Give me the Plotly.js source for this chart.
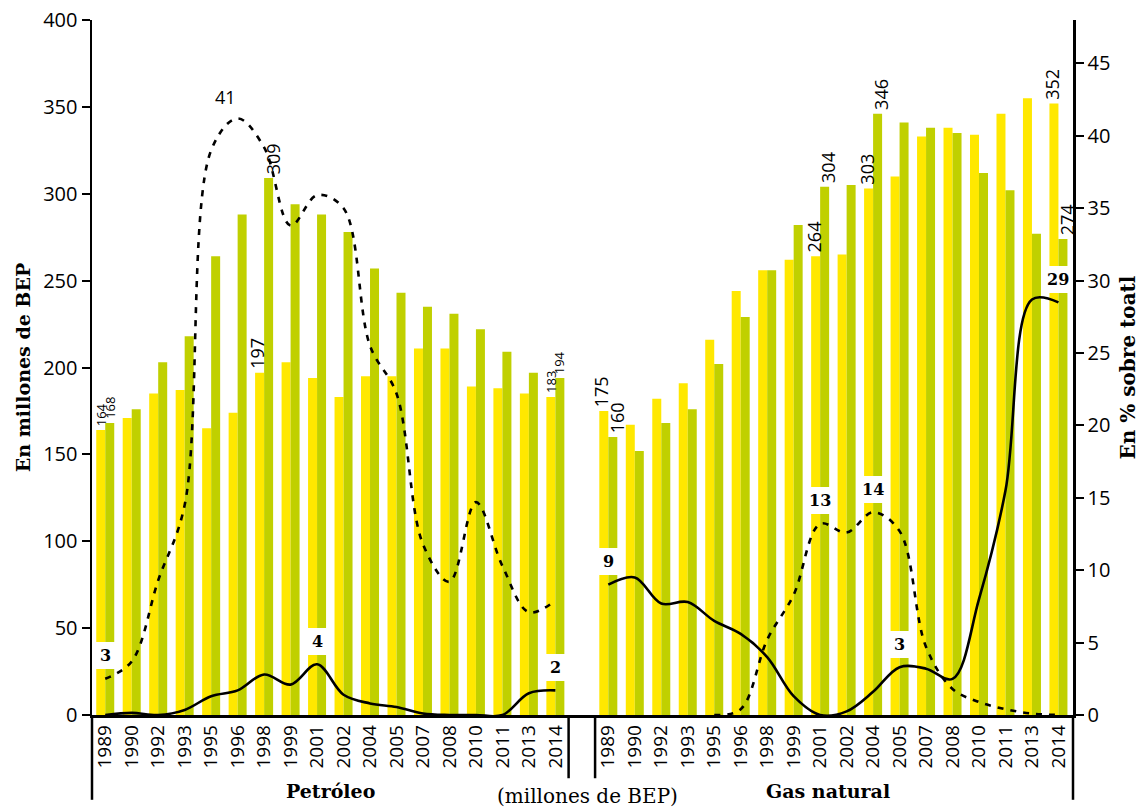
<!DOCTYPE html>
<html>
<head>
<meta charset="utf-8">
<script src="https://cdn.plot.ly/plotly-3.0.1.min.js"></script>
<style>html,body{margin:0;padding:0;background:#fff;}#chart{width:1147px;height:807px;}</style>
</head>
<body>
<div id="chart"></div>
<script>
// ---- data ----
const years = ['1989','1990','1992','1993','1995','1996','1998','1999','2001','2002','2004','2005','2007','2008','2010','2011','2013','2014'];

// Petróleo (millones de BEP)
const petroYellow = [164, 171, 185, 187, 165, 174, 197, 203, 194, 183, 195, 195, 211, 211, 189, 188, 185, 183];
const petroGreen  = [168, 176, 203, 218, 264, 288, 309, 294, 288, 278, 257, 243, 235, 231, 222, 209, 197, 194];
// Gas natural (millones de BEP)
const gasYellow = [175, 167, 182, 191, 216, 244, 256, 262, 264, 265, 303, 310, 333, 338, 334, 346, 355, 352];
const gasGreen  = [160, 152, 168, 176, 202, 229, 256, 282, 304, 305, 346, 341, 338, 335, 312, 302, 277, 274];

// % sobre total (right axis)
const petroDashed = [2.5, 3.7, 9.3, 14.5, 39.0, 41.2, 39.2, 33.8, 35.9, 35.0, 25.5, 22.2, 11.8, 9.2, 14.7, 10.3, 7.1, 7.9];
const petroSolid  = [0, 0.15, 0, 0.35, 1.3, 1.7, 2.8, 2.1, 3.5, 1.4, 0.8, 0.55, 0.1, 0, 0, 0, 1.5, 1.7];
const gasDashed   = [null, null, null, null, 0, 0.4, 5.2, 8.3, 13.2, 12.6, 14.0, 12.7, 4.7, 1.8, 0.9, 0.4, 0.1, 0];
const gasSolid    = [9.0, 9.5, 7.7, 7.8, 6.5, 5.6, 4.0, 1.3, 0, 0.25, 1.6, 3.3, 3.2, 2.5, 8.0, 15.5, 28.7, 28.5];

// which points carry labels
const petroBarLabelIdx = [0, 6, 17];
const gasBarLabelIdx = [0, 8, 10, 17];
const smallBarLabelIdxPetro = [0, 17];
const boxedLabels = [
  {series: 'petroDashed', idx: 0},
  {series: 'petroSolid', idx: 8},
  {series: 'petroSolid', idx: 17},
  {series: 'gasSolid', idx: 0},
  {series: 'gasDashed', idx: 8},
  {series: 'gasDashed', idx: 10},
  {series: 'gasSolid', idx: 11},
  {series: 'gasSolid', idx: 17}
];
const peakLabel = {series: 'petroDashed', idx: 5};

// ---- positions on the category axis ----
const n = years.length;
const petroX = years.map((_, i) => i);
const gasX = years.map((_, i) => i + n + 1);

const YELLOW = '#FFE800';
const GREEN = '#C0D000';
const TICKFONT = 'Open Sans, Noto Sans, sans-serif';
const SERIF = 'DejaVu Serif, serif';

const seriesMap = {
  petroDashed: {x: petroX, y: petroDashed},
  petroSolid: {x: petroX, y: petroSolid},
  gasDashed: {x: gasX, y: gasDashed},
  gasSolid: {x: gasX, y: gasSolid}
};

const dashLine = {color: '#000', width: 2.6, dash: '6px,7px', shape: 'spline', smoothing: 1};
const solidLine = {color: '#000', width: 2.6, shape: 'spline', smoothing: 1};

const traces = [
  {type: 'bar', x: petroX.concat(gasX), y: petroYellow.concat(gasYellow), marker: {color: YELLOW}, hoverinfo: 'y'},
  {type: 'bar', x: petroX.concat(gasX), y: petroGreen.concat(gasGreen), marker: {color: GREEN}, hoverinfo: 'y'},
  {type: 'scatter', mode: 'lines', x: petroX, y: petroDashed, yaxis: 'y2', line: dashLine},
  {type: 'scatter', mode: 'lines', x: gasX, y: gasDashed, yaxis: 'y2', line: dashLine, connectgaps: false},
  {type: 'scatter', mode: 'lines', x: petroX, y: petroSolid, yaxis: 'y2', line: solidLine},
  {type: 'scatter', mode: 'lines', x: gasX, y: gasSolid, yaxis: 'y2', line: solidLine}
];

const annotations = [];
const barOffset = 0.17;
function addBarLabels(xs, ya, yb, idxs, smallIdx) {
  idxs.forEach(i => {
    const small = smallIdx.indexOf(i) >= 0;
    [[ya[i], -barOffset, -2], [yb[i], barOffset, 4]].forEach(([v, off, shift]) => {
      annotations.push({
        x: xs[i] + off, y: v, xref: 'x', yref: 'y', text: String(v),
        textangle: -90, showarrow: false, yanchor: 'bottom', xanchor: 'center', yshift: 2,
        xshift: small ? 0 : shift,
        font: {family: TICKFONT, size: small ? 13 : 18, color: '#000'}
      });
    });
  });
}
addBarLabels(petroX, petroYellow, petroGreen, petroBarLabelIdx, smallBarLabelIdxPetro);
addBarLabels(gasX, gasYellow, gasGreen, gasBarLabelIdx, []);

boxedLabels.forEach(b => {
  const s = seriesMap[b.series];
  const v = s.y[b.idx];
  annotations.push({
    x: s.x[b.idx], y: v, xref: 'x', yref: 'y2', text: '<b>' + Math.round(v) + '</b>',
    showarrow: false, yshift: 23, bgcolor: '#fff', borderpad: 4, borderwidth: 0,
    font: {family: SERIF, size: 16, color: '#000'}
  });
});

(function () {
  const s = seriesMap[peakLabel.series];
  const v = s.y[peakLabel.idx];
  annotations.push({
    x: s.x[peakLabel.idx], y: v, xref: 'x', yref: 'y2', text: String(Math.round(v)),
    showarrow: false, yshift: 21, xshift: -12,
    font: {family: TICKFONT, size: 18, color: '#000'}
  });
})();

annotations.push(
  {x: (petroX[0] + petroX[n - 1]) / 2, y: -0.109, xref: 'x', yref: 'paper', yanchor: 'middle', text: '<b>Petróleo</b>', showarrow: false,
   font: {family: SERIF, size: 19, color: '#000'}},
  {x: (gasX[0] + gasX[n - 1]) / 2 - 0.2, y: -0.109, xref: 'x', yref: 'paper', yanchor: 'middle', text: '<b>Gas natural</b>', showarrow: false,
   font: {family: SERIF, size: 19, color: '#000'}},
  {x: n + 0.2, y: -0.117, xref: 'x', yref: 'paper', yanchor: 'middle', text: '(millones de BEP)', showarrow: false,
   font: {family: SERIF, size: 20, color: '#000'}}
);

const shapes = [
  {type: 'line', xref: 'paper', yref: 'paper', x0: 0, x1: 0, y0: 0, y1: -0.122, line: {color: '#000', width: 2.5}},
  {type: 'line', xref: 'paper', yref: 'paper', x0: 1, x1: 1, y0: 0, y1: -0.122, line: {color: '#000', width: 2.5}},
  {type: 'line', xref: 'x', yref: 'paper', x0: n - 0.5, x1: n - 0.5, y0: 0, y1: -0.091, line: {color: '#000', width: 2.5}},
  {type: 'line', xref: 'x', yref: 'paper', x0: n + 0.5, x1: n + 0.5, y0: 0, y1: -0.091, line: {color: '#000', width: 2.5}}
];

const layout = {
  width: 1147, height: 807,
  margin: {l: 92, r: 74, t: 20, b: 92},
  paper_bgcolor: '#fff', plot_bgcolor: '#fff',
  showlegend: false,
  barmode: 'group', bargap: 0.32, bargroupgap: 0,
  xaxis: {
    range: [-0.5, 2 * n + 0.55],
    tickmode: 'array', tickvals: petroX.concat(gasX), ticktext: years.concat(years),
    tickangle: -90, tickfont: {family: TICKFONT, size: 19, color: '#000'},
    showline: true, linecolor: '#000', linewidth: 2.5, ticks: '', showgrid: false, zeroline: false
  },
  yaxis: {
    range: [0, 400], tickmode: 'linear', tick0: 0, dtick: 50,
    ticks: 'outside', ticklen: 8, tickwidth: 2, tickcolor: '#000',
    showline: true, linecolor: '#000', linewidth: 2.5, showgrid: false, zeroline: false,
    tickfont: {family: TICKFONT, size: 20, color: '#000'},
    title: {text: '<b>En millones de BEP</b>', font: {family: SERIF, size: 19, color: '#000'}, standoff: 8}
  },
  yaxis2: {
    overlaying: 'y', side: 'right', range: [0, 48], tickmode: 'linear', tick0: 0, dtick: 5,
    ticks: 'outside', ticklen: 8, tickwidth: 2, tickcolor: '#000',
    showline: true, linecolor: '#000', linewidth: 2.5, showgrid: false, zeroline: false,
    tickfont: {family: TICKFONT, size: 20, color: '#000'},
    title: {text: '<b>En % sobre toatl</b>', font: {family: SERIF, size: 20, color: '#000'}, standoff: 12}
  },
  annotations: annotations,
  shapes: shapes
};

Plotly.newPlot('chart', traces, layout, {displayModeBar: false, staticPlot: true});
</script>
</body>
</html>
